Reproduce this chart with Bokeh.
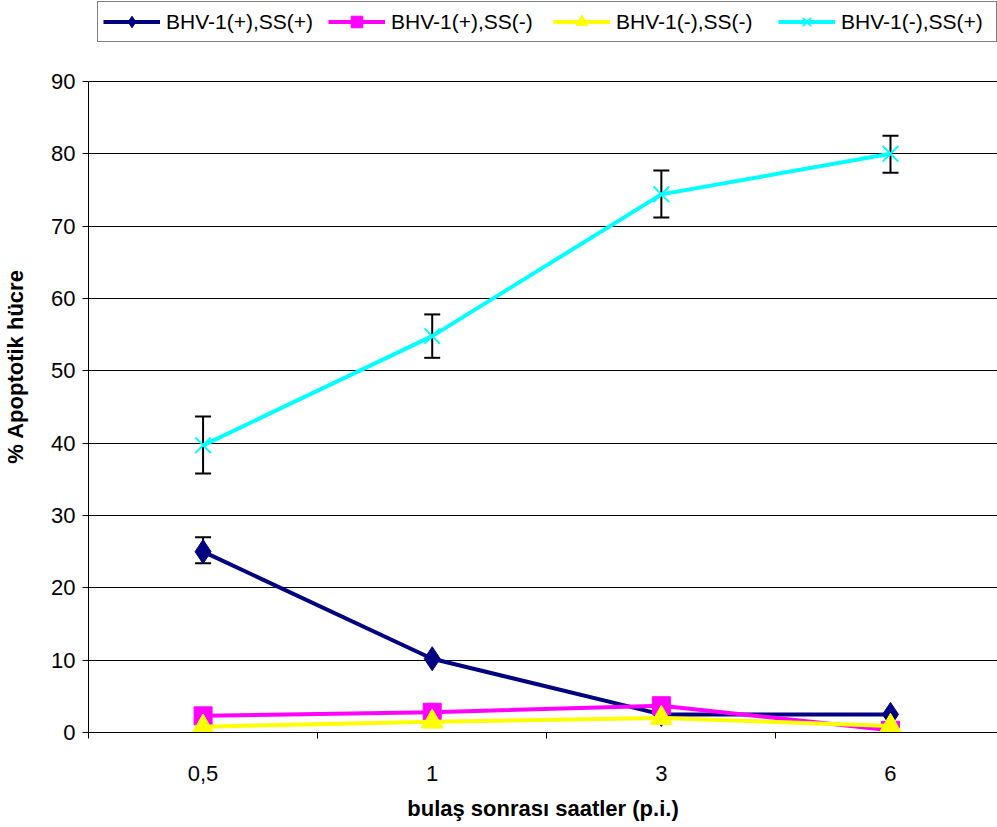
from bokeh.plotting import figure
from bokeh.models import ColumnDataSource, Whisker, TeeHead, FixedTicker, Range1d, Legend, LegendItem
from bokeh.embed import file_html
from bokeh.resources import INLINE

categories = ["0,5", "1", "3", "6"]
names = ["BHV-1(+),SS(+)", "BHV-1(+),SS(-)", "BHV-1(-),SS(-)", "BHV-1(-),SS(+)"]
s1 = [25.0, 10.2, 2.5, 2.5]
s2 = [2.3, 2.8, 3.7, 0.3]
s3 = [0.8, 1.5, 2.0, 0.9]
s4 = [39.7, 54.8, 74.4, 80.0]
s1_upper = [27.0]
s1_lower = [23.4]
s4_upper = [43.7, 57.8, 77.7, 82.5]
s4_lower = [35.8, 51.8, 71.2, 77.4]
y_ticks = [0, 10, 20, 30, 40, 50, 60, 70, 80, 90]

xpos = list(range(len(categories)))

# frame spans the top of the page so the legend can sit inside it; the axis is bounded to 0..90
p = figure(width=997, height=826, output_backend="svg", toolbar_location=None,
           x_range=Range1d(-0.5, 3.467), y_range=Range1d(0, 101.2),
           min_border_left=88, min_border_right=0, min_border_top=0, min_border_bottom=94)
p.outline_line_color = None
p.background_fill_color = "white"
p.border_fill_color = "white"

FONT = "Liberation Sans"

# axes
p.xaxis.ticker = FixedTicker(ticks=xpos, minor_ticks=[-0.5, 0.5, 1.5, 2.5, 3.5])
p.xaxis.major_label_overrides = {i: c for i, c in enumerate(categories)}
p.xaxis.major_tick_out = 0
p.xaxis.major_tick_in = 0
p.xaxis.minor_tick_out = 6
p.xaxis.minor_tick_in = 0
p.xaxis.minor_tick_line_color = "black"
p.xaxis.axis_line_color = "black"
p.xaxis.major_label_standoff = 27
p.xaxis.major_label_text_font = FONT
p.xaxis.major_label_text_font_size = "22px"
p.xaxis.major_label_text_color = "black"
p.xaxis.axis_label = "bulaş sonrası saatler (p.i.)"
p.xaxis.axis_label_text_font = FONT
p.xaxis.axis_label_text_font_size = "22px"
p.xaxis.axis_label_text_font_style = "bold"
p.xaxis.axis_label_text_color = "black"
p.xaxis.axis_label_standoff = 12

p.yaxis.ticker = FixedTicker(ticks=y_ticks)
p.yaxis.bounds = (0, 90)
p.yaxis.major_tick_out = 6
p.yaxis.major_tick_in = 0
p.yaxis.minor_tick_out = 0
p.yaxis.minor_tick_in = 0
p.yaxis.axis_line_color = "black"
p.yaxis.major_tick_line_color = "black"
p.yaxis.major_label_standoff = 7
p.yaxis.major_label_text_font = FONT
p.yaxis.major_label_text_font_size = "22px"
p.yaxis.major_label_text_color = "black"
p.yaxis.axis_label = "% Apoptotik hücre"
p.yaxis.axis_label_text_font = FONT
p.yaxis.axis_label_text_font_size = "22px"
p.yaxis.axis_label_text_font_style = "bold"
p.yaxis.axis_label_text_color = "black"
p.yaxis.axis_label_standoff = 20

p.xgrid.visible = False
p.ygrid.ticker = FixedTicker(ticks=y_ticks)
p.ygrid.grid_line_color = "black"
p.ygrid.grid_line_width = 1

series = [
    (s1, "#000080", "diamond", 24),
    (s2, "#FF00FF", "square", 18),
    (s3, "#FFFF00", "triangle", 22),
    (s4, "#00FFFF", "x", 22),
]

items = []
for (vals, color, marker, size), name in zip(series, names):
    src = ColumnDataSource(data=dict(x=xpos, y=vals))
    ln = p.line("x", "y", source=src, line_color=color, line_width=4)
    if marker == "x":
        sc = p.scatter("x", "y", source=src, marker=marker, size=size,
                       line_color=color, line_width=2)
    else:
        sc = p.scatter("x", "y", source=src, marker=marker, size=size,
                       fill_color=color, line_color=color, line_width=1)
    items.append(LegendItem(label=name, renderers=[ln, sc]))

e1 = ColumnDataSource(data=dict(x=xpos[:1], upper=s1_upper, lower=s1_lower))
e4 = ColumnDataSource(data=dict(x=xpos, upper=s4_upper, lower=s4_lower))
for src in (e1, e4):
    w = Whisker(source=src, base="x", upper="upper", lower="lower",
                line_color="black", line_width=2,
                upper_head=TeeHead(size=16, line_color="black", line_width=2),
                lower_head=TeeHead(size=16, line_color="black", line_width=2))
    p.add_layout(w)

legend = Legend(items=items, orientation="horizontal", location=(9, 690),
                glyph_width=57, glyph_height=29, label_standoff=6, label_width=150,
                label_height=20, spacing=12, padding=5, margin=0,
                label_text_font=FONT, label_text_font_size="21px", label_text_color="black",
                border_line_color="black", border_line_width=1,
                background_fill_color="white", background_fill_alpha=1)
p.add_layout(legend, "center")

open("out.html", "w").write(file_html(p, INLINE))
